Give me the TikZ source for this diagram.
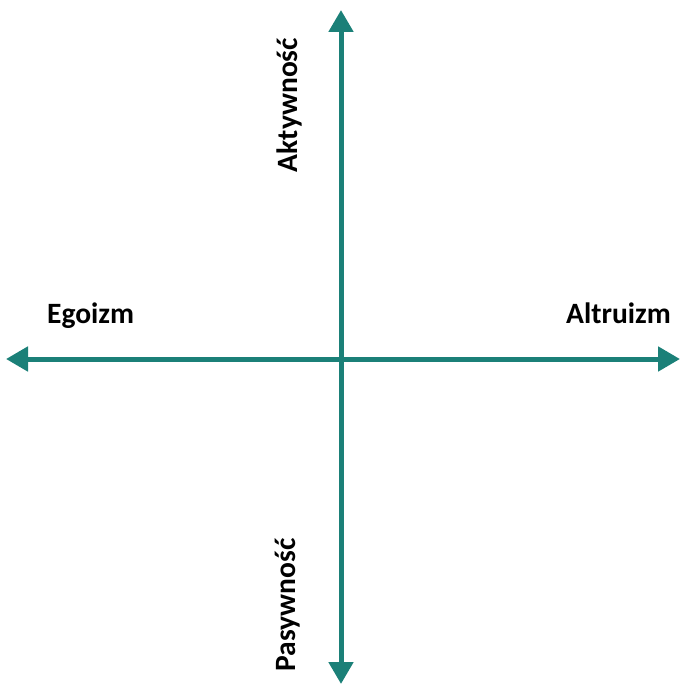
\documentclass[tikz,border=0pt]{standalone}
\usepackage{fontspec}
\setmainfont{Carlito}
\usetikzlibrary{arrows.meta}
\definecolor{axisteal}{RGB}{27,128,120}
\tikzset{
  axis/.style={draw=axisteal, line width=5pt, {Triangle[length=22pt,width=24pt]}-{Triangle[length=22pt,width=24pt]}},
  lbl/.style={font=\fontsize{29.5}{33}\selectfont\bfseries, text=black, inner sep=0pt}
}
\begin{document}
\begin{tikzpicture}[x=1pt,y=-1pt]
\useasboundingbox (0,0) rectangle (682,685);
\coordinate (top) at (341,10);
\coordinate (bot) at (341,684);
\coordinate (lft) at (6,359);
\coordinate (rgt) at (680,359);
\draw[axis] (bot) -- (top);
\draw[axis] (lft) -- (rgt);
\node[lbl, anchor=base west] (ego) at (47,323) {Egoizm};
\node[lbl, anchor=base east] (alt) at (671,323) {Altruizm};
\node[lbl, rotate=90, anchor=base] (akt) at (297,105) {Aktywność};
\node[lbl, rotate=90, anchor=base] (pas) at (295,605) {Pasywność};
\end{tikzpicture}
\end{document}
